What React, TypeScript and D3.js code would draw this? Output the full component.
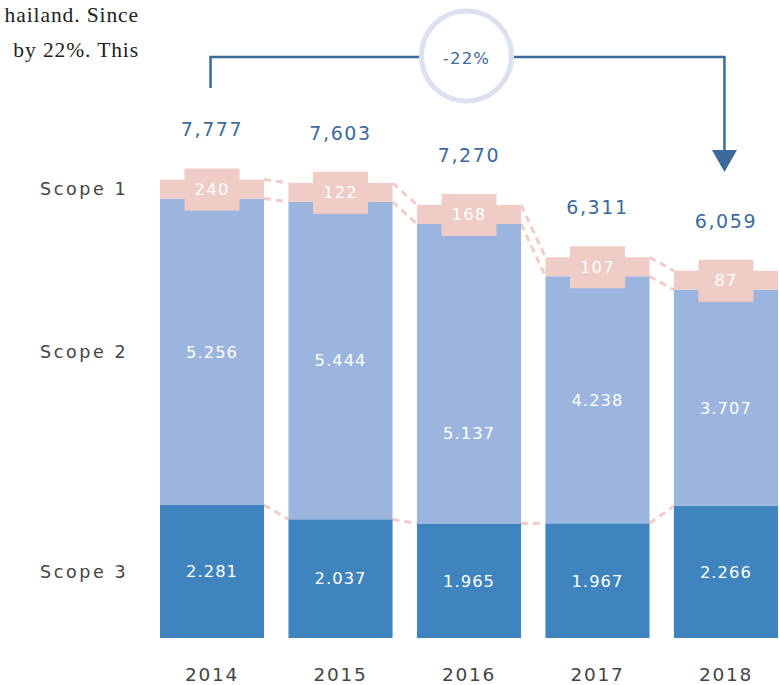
import React from "react";
import * as d3 from "d3";

const years = ["2014", "2015", "2016", "2017", "2018"];
const scope1 = [240, 122, 168, 107, 87];
const scope2 = [5256, 5444, 5137, 4238, 3707];
const scope3 = [2281, 2037, 1965, 1967, 2266];
const totals = [7777, 7603, 7270, 6311, 6059];
const scopeLabels = ["Scope 1", "Scope 2", "Scope 3"];
const changeLabel = "-22%";
const introLines = ["hailand. Since", "by 22%. This"];

// style-only label nudges for scope 2 values
const scope2LabelDy = [0, 0, 59, 0, 10];

const W = 779;
const H = 685;
const C3 = "#3f84be";
const C2 = "#9bb5de";
const C1 = "#efccc5";
const DASH = "#f0cdc6";
const BLUE_TXT = "#3d6a9c";
const FONT = "'DejaVu Sans', sans-serif";

export default function App() {
  const x = d3.scaleBand<string>().domain(years).range([160, 778]).paddingInner(0.19).paddingOuter(0);
  const y = d3.scaleLinear().domain([0, 10000]).range([638, 55]);
  const bw = x.bandwidth();
  const bandH = 19;
  const tabW = 55;
  const tabUp = 11;
  const tabDown = 12;

  const fmtTotal = d3.format(",");
  const fmtK = (v: number) => (v / 1000).toFixed(3);

  const s3Top = years.map((_, i) => y(scope3[i]));
  const s2Top = years.map((_, i) => y(scope3[i] + scope2[i]));
  const bTop = s2Top.map((v) => v - bandH);

  const cx0 = (x(years[0]) as number) + bw / 2 - 1.5;
  const cx4 = (x(years[4]) as number) + bw / 2 - 1.5;
  const bracketY = 57;
  const circX = (cx0 + cx4) / 2 - 1;

  const dashed: { x1: number; y1: number; x2: number; y2: number }[] = [];
  for (let i = 0; i < years.length - 1; i++) {
    const xa = (x(years[i]) as number) + bw;
    const xb = x(years[i + 1]) as number;
    dashed.push({ x1: xa, y1: bTop[i], x2: xb, y2: bTop[i + 1] });
    dashed.push({ x1: xa, y1: s2Top[i], x2: xb, y2: s2Top[i + 1] });
    dashed.push({ x1: xa, y1: s3Top[i], x2: xb, y2: s3Top[i + 1] });
  }

  return (
    <svg width={W} height={H} style={{ position: "absolute", left: 0, top: 0, display: "block" }}>
      <rect width={W} height={H} fill="#fff" />
      {introLines.map((t, i) => (
        <text key={t} x={139} y={22 + i * 35} textAnchor="end" fontFamily="'Liberation Serif', serif" fontSize={21.5} letterSpacing={0.9} fill="#222">
          {t}
        </text>
      ))}

      {/* dashed connectors */}
      {dashed.map((d, i) => (
        <line key={i} {...d} stroke={DASH} strokeWidth={3} strokeDasharray="7,5" />
      ))}

      {years.map((yr, i) => {
        const bx = x(yr) as number;
        const cx = bx + bw / 2;
        return (
          <g key={yr}>
            <rect x={bx} y={s3Top[i]} width={bw} height={y(0) - s3Top[i]} fill={C3} />
            <rect x={bx} y={s2Top[i]} width={bw} height={s3Top[i] - s2Top[i]} fill={C2} />
            <rect x={bx} y={bTop[i]} width={bw} height={bandH} fill={C1} />
            <rect x={cx - tabW / 2} y={bTop[i] - tabUp} width={tabW} height={bandH + tabUp + tabDown} fill={C1} />
            <text x={cx} y={bTop[i] + bandH / 2} dy="0.36em" textAnchor="middle" fontFamily={FONT} fontSize={16.5} letterSpacing={1.2} fill="#fff">
              {scope1[i]}
            </text>
            <text x={cx} y={(s2Top[i] + s3Top[i]) / 2 + scope2LabelDy[i]} dy="0.36em" textAnchor="middle" fontFamily={FONT} fontSize={16.3} letterSpacing={1.1} fill="#fff">
              {fmtK(scope2[i])}
            </text>
            <text x={cx} y={(s3Top[i] + y(0)) / 2} dy="0.36em" textAnchor="middle" fontFamily={FONT} fontSize={16.3} letterSpacing={1.1} fill="#fff">
              {fmtK(scope3[i])}
            </text>
            <text x={cx} y={bTop[i] - 50} dy="0.36em" textAnchor="middle" fontFamily={FONT} fontSize={19} letterSpacing={1.6} fill={BLUE_TXT}>
              {fmtTotal(totals[i])}
            </text>
            <text x={cx} y={674} dy="0.36em" textAnchor="middle" fontFamily={FONT} fontSize={18.5} letterSpacing={1.7} fill="#444">
              {yr}
            </text>
          </g>
        );
      })}

      {/* scope labels */}
      {scopeLabels.map((s, i) => {
        const yy = i === 0 ? bTop[0] + bandH / 2 : i === 1 ? (s2Top[0] + s3Top[0]) / 2 : (s3Top[0] + y(0)) / 2;
        return (
          <text key={s} x={40} y={yy} dy="0.36em" fontFamily={FONT} fontSize={17.5} letterSpacing={2.6} fill="#444">
            {s}
          </text>
        );
      })}

      {/* bracket arrow */}
      <path
        d={`M${cx0},88 V${bracketY} H${cx4} V151`}
        fill="none"
        stroke={BLUE_TXT}
        strokeWidth={2.5}
      />
      <path d={`M${cx4 - 12.5},150 L${cx4 + 12.5},150 L${cx4},172 Z`} fill={BLUE_TXT} />
      <circle cx={circX} cy={56} r={45} fill="#fff" stroke="#dbe1ee" strokeWidth={5} />
      <text x={circX} y={58} dy="0.36em" textAnchor="middle" fontFamily={FONT} fontSize={16.5} letterSpacing={1.2} fill={BLUE_TXT}>
        {changeLabel}
      </text>
    </svg>
  );
}
